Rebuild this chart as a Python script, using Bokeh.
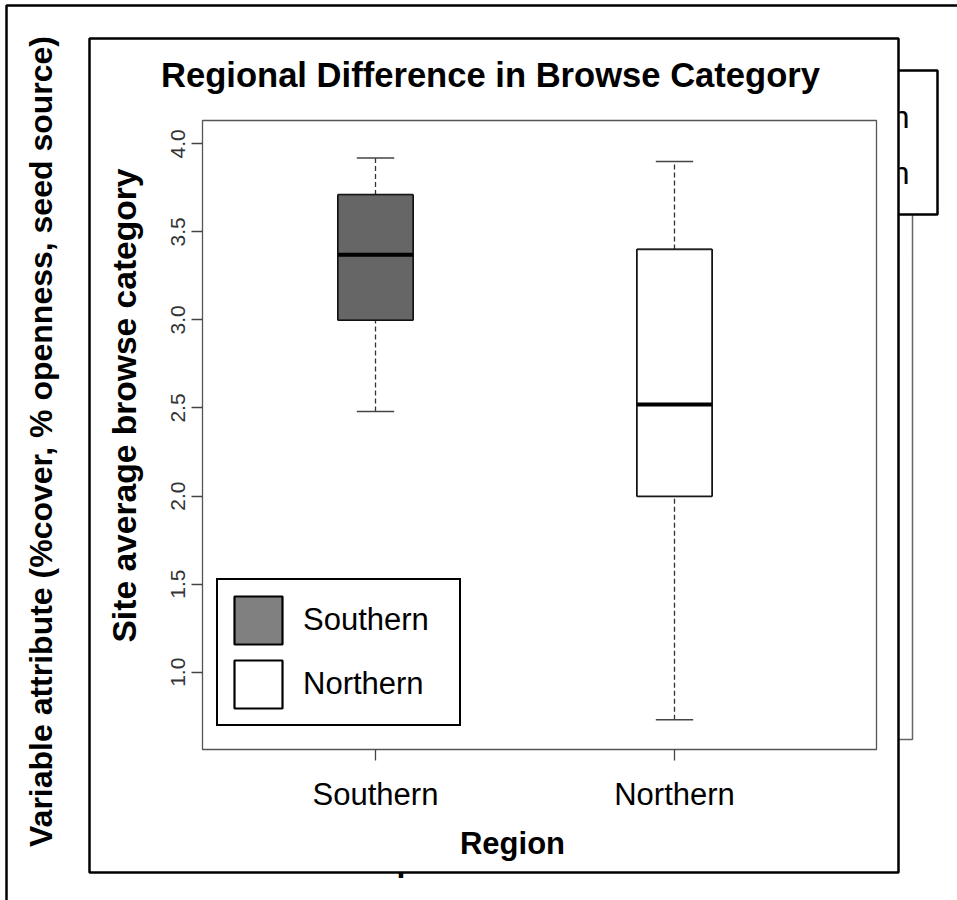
import math

from bokeh.embed import file_html
from bokeh.models import (BoxAnnotation, ColumnDataSource, FixedTicker, Label,
                          Legend, LegendItem, Range1d)
from bokeh.plotting import figure
from bokeh.resources import INLINE

# ---- data -------------------------------------------------------------
regions = ["Southern", "Northern"]
positions = [1, 2]
lower_whisker = [2.48, 0.73]
q1 = [3.00, 2.00]
median = [3.37, 2.52]
q3 = [3.71, 3.40]
upper_whisker = [3.92, 3.90]
box_fill = ["#666666", "#ffffff"]
legend_fill = ["#808080", "#ffffff"]
y_ticks = [1.0, 1.5, 2.0, 2.5, 3.0, 3.5, 4.0]
y_tick_labels = ["1.0", "1.5", "2.0", "2.5", "3.0", "3.5", "4.0"]

# ---- canvas layout (pixels from the top-left corner) -------------------
W, H = 957, 900
FL, FR, FT, FB = 202, 876, 120, 749          # boxplot region on the canvas
X0, X1 = 0.4214, 2.6756                       # x values at its left / right edge
Y0, Y1 = 0.5611, 4.1323                       # y values at its bottom / top edge
BOX_W = 0.25
CAP_W = 0.125

FONT = "Liberation Sans"


def to_x(px):
    return X0 + (px - FL) * (X1 - X0) / (FR - FL)


def to_y(py):
    return Y1 - (py - FT) * (Y1 - Y0) / (FB - FT)


# the frame covers the whole canvas; the axes are pinned to the boxplot region
p = figure(width=W, height=H, output_backend="svg", toolbar_location=None,
           title=None,
           x_range=Range1d(to_x(0), to_x(W)), y_range=Range1d(to_y(H), to_y(0)),
           min_border=0)
p.background_fill_color = "white"
p.border_fill_color = "white"
p.outline_line_color = None
p.xgrid.visible = False
p.ygrid.visible = False


def box(left, top, right, bottom, fill_color=None, line_color="black", line_width=2.5):
    b = BoxAnnotation(left=to_x(left), right=to_x(right),
                      top=to_y(top), bottom=to_y(bottom), level="underlay",
                      fill_color=fill_color, fill_alpha=1.0,
                      line_color=line_color, line_alpha=1.0, line_width=line_width)
    p.add_layout(b)
    return b


def label(px, py, text, size, bold=False, angle=0.0, align="center",
          level="annotation", color="black"):
    lab = Label(x=to_x(px), y=to_y(py), text=text, text_font=FONT,
                text_font_size=f"{size}px",
                text_font_style="bold" if bold else "normal",
                text_align=align, text_baseline="middle", angle=angle,
                text_color=color, level=level)
    p.add_layout(lab)
    return lab


# ---- panels lying underneath the boxplot panel --------------------------
box(6, 5, W + 50, H + 50)
box(150, 150, 912, 739, line_color="#666666", line_width=1.5)
box(650, 70, 937, 214, fill_color="white")
label(909, 116, "Southern", 32, align="right", level="underlay")
label(909, 172, "Northern", 32, align="right", level="underlay")
label(396, 859, "p", 32, bold=True, align="left", level="underlay")

# boxplot panel
box(89, 38, 898, 872, fill_color="white")
# plotting region outline
p.add_layout(BoxAnnotation(left=X0, right=X1, bottom=Y0, top=Y1, level="underlay",
                           fill_color=None, line_color="#555555", line_alpha=1.0,
                           line_width=1.3))

label(40, 441, "Variable attribute (%cover, % openness, seed source)", 32,
      bold=True, angle=math.pi / 2)

# ---- titles -------------------------------------------------------------
label(490, 74, "Regional Difference in Browse Category", 34.6, bold=True)
label(124, 405, "Site average browse category", 33.6, bold=True, angle=math.pi / 2)
label(512, 843, "Region", 31, bold=True)

# ---- boxplot -----------------------------------------------------------
src = ColumnDataSource(dict(
    x=positions,
    lw=lower_whisker, q1=q1, med=median, q3=q3, uw=upper_whisker,
    fill=box_fill,
    bx0=[x - BOX_W / 2 for x in positions], bx1=[x + BOX_W / 2 for x in positions],
    cx0=[x - CAP_W / 2 for x in positions], cx1=[x + CAP_W / 2 for x in positions],
))

p.segment(x0="x", y0="q3", x1="x", y1="uw", source=src,
          line_color="#333333", line_width=1.3, line_dash="5 3")
p.segment(x0="x", y0="lw", x1="x", y1="q1", source=src,
          line_color="#333333", line_width=1.3, line_dash="5 3")
p.segment(x0="cx0", y0="uw", x1="cx1", y1="uw", source=src,
          line_color="#444444", line_width=1.5)
p.segment(x0="cx0", y0="lw", x1="cx1", y1="lw", source=src,
          line_color="#444444", line_width=1.5)

# legend swatches: one box per region, drawn beneath the boxes proper
swatches = []
for i, c in enumerate(legend_fill):
    swatches.append(p.vbar(x=[positions[i]], width=BOX_W, bottom=[q1[i]], top=[q3[i]],
                           fill_color=c, line_color="black", line_width=2.2))

p.vbar(x="x", width=BOX_W, bottom="q1", top="q3", source=src,
       fill_color="fill", line_color="#222222", line_width=1.3)
p.segment(x0="bx0", y0="med", x1="bx1", y1="med", source=src,
          line_color="black", line_width=4)

# ---- legend --------------------------------------------------------------
legend = Legend(items=[LegendItem(label=name, renderers=[r])
                       for name, r in zip(regions, swatches)],
                location=(216, H - 726), glyph_width=60, glyph_height=60,
                label_width=146, label_height=60, label_standoff=15,
                spacing=4, padding=10, margin=0,
                label_text_font=FONT, label_text_font_size="31px",
                label_text_color="black",
                border_line_color="black", border_line_alpha=1.0,
                border_line_width=2.5,
                background_fill_color="white", background_fill_alpha=1.0)
p.add_layout(legend)

# ---- axes ------------------------------------------------------------------
p.xaxis.fixed_location = Y0
p.yaxis.fixed_location = X0

p.xaxis.ticker = FixedTicker(ticks=positions)
p.xaxis.major_label_overrides = {x: name for x, name in zip(positions, regions)}
p.xaxis.major_label_text_font = FONT
p.xaxis.major_label_text_font_size = "31px"
p.xaxis.major_label_text_color = "black"
p.xaxis.major_label_standoff = 16

p.yaxis.ticker = FixedTicker(ticks=y_ticks)
p.yaxis.major_label_overrides = {t: s for t, s in zip(y_ticks, y_tick_labels)}
p.yaxis.major_label_orientation = "vertical"
p.yaxis.major_label_text_font = FONT
p.yaxis.major_label_text_font_size = "21px"
p.yaxis.major_label_text_color = "#333333"
p.yaxis.major_label_standoff = 6

for ax in (p.xaxis, p.yaxis):
    ax.axis_line_color = None
    ax.major_tick_out = 11
    ax.major_tick_in = 0
    ax.major_tick_line_color = "#444444"
    ax.major_tick_line_width = 1.3
    ax.minor_tick_line_color = None

open("out.html", "w").write(file_html(p, INLINE))
